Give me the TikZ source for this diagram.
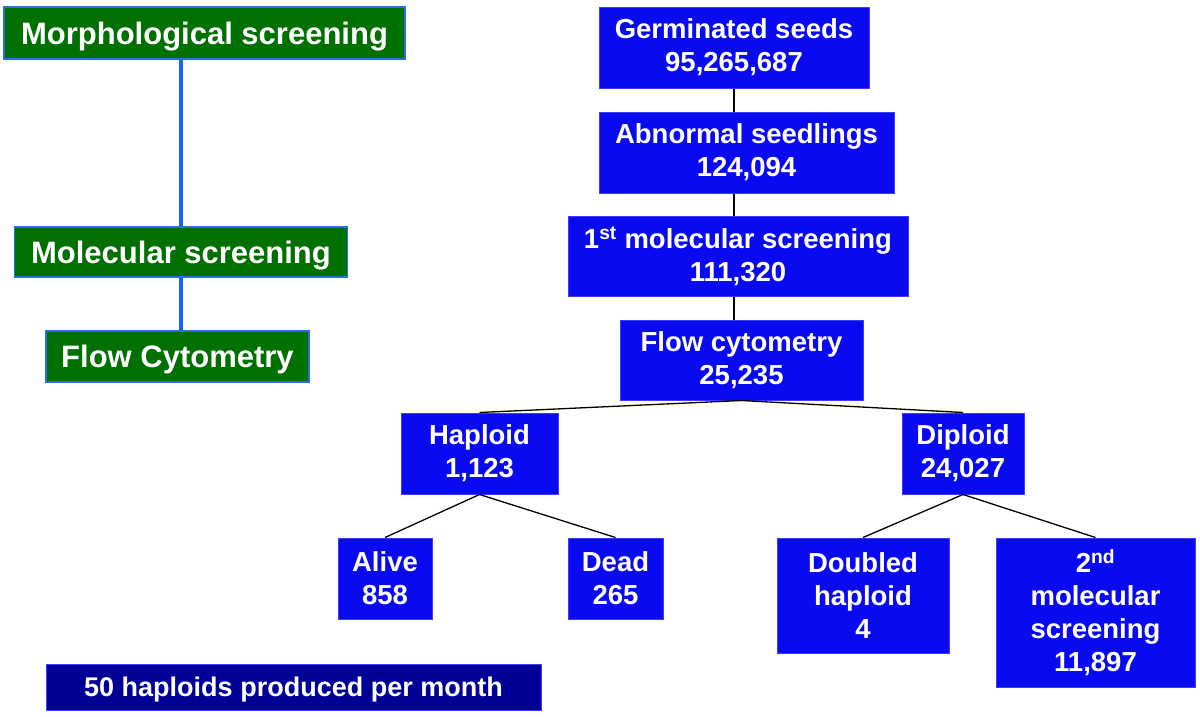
\documentclass[tikz,border=0pt]{standalone}
\usepackage{fontspec}
\setmainfont{Liberation Sans}
\definecolor{gfill}{RGB}{0,112,0}
\definecolor{gborder}{RGB}{40,110,230}
\definecolor{bfill}{RGB}{10,10,240}
\definecolor{bborder}{RGB}{60,60,255}
\definecolor{navy}{RGB}{0,0,150}
\definecolor{lineblue}{RGB}{20,100,255}
\begin{document}
\begin{tikzpicture}[x=1pt,y=-1pt,
  gbox/.style={draw=gborder, fill=gfill, line width=1.2pt, text=white,
    font=\bfseries\fontsize{31}{37}\selectfont, inner sep=0pt,
    text height=22pt, text depth=0pt},
  bbox/.style={draw=bborder, fill=bfill, line width=1pt, text=white,
    font=\bfseries\fontsize{27.5}{33}\selectfont, align=center, inner sep=0pt},
  nbox/.style={draw=bborder, fill=navy, line width=1pt, text=white,
    font=\bfseries\fontsize{27}{32}\selectfont, inner sep=0pt,
    text height=19.4pt, text depth=0pt},
  conn/.style={draw=black, line width=1.3pt},
  vconn/.style={draw=lineblue, line width=3.2pt}]
\useasboundingbox (0,0) rectangle (1200,716);

% left green column
\node[gbox, minimum width=401pt, minimum height=52pt] (morph) at (204.5,33) {Morphological screening};
\node[gbox, minimum width=333pt, minimum height=50pt] (molec) at (181,252) {Molecular screening};
\node[gbox, minimum width=263pt, minimum height=51pt] (flowc) at (177.5,356.5) {Flow Cytometry};
\draw[vconn] (morph.south -| molec.north) -- (molec.north);
\draw[vconn] (molec.south) -- (flowc.north -| molec.south);

% blue tree
\node[bbox, minimum width=270pt, minimum height=81pt] (germ) at (734,47.5) {Germinated seeds\\95,265,687};
\node[bbox, minimum width=295pt, minimum height=81pt] (abn) at (746.5,152.5) {Abnormal seedlings\\124,094};
\node[bbox, minimum width=340pt, minimum height=80pt] (mol1) at (738,256) {1\textsuperscript{st} molecular screening\\111,320};
\node[bbox, minimum width=243pt, minimum height=80pt] (flow) at (741.5,360) {Flow cytometry\\25,235};
\node[bbox, minimum width=157pt, minimum height=81pt] (hap) at (479.5,453.5) {Haploid\\1,123};
\node[bbox, minimum width=122pt, minimum height=81pt] (dip) at (963,453.5) {Diploid\\24,027};
\node[bbox, minimum width=94pt, minimum height=81pt] (alive) at (385,578.5) {Alive\\858};
\node[bbox, minimum width=95pt, minimum height=81pt] (dead) at (615.5,578.5) {Dead\\265};
\node[bbox, minimum width=172pt, minimum height=115pt] (dbl) at (863,595.5) {Doubled\\haploid\\4};
\node[bbox, minimum width=199pt, minimum height=149pt] (mol2) at (1095.5,612.5) {2\textsuperscript{nd}\\molecular\\screening\\11,897};

\node[nbox, minimum width=495pt, minimum height=46pt] (rate) at (293.5,687) {50 haploids produced per month};

% connectors
\draw[conn] (germ.south) -- (germ.south |- abn.north);
\draw[conn] (abn.south -| germ.south) -- (mol1.north -| germ.south);
\draw[conn] (mol1.south -| germ.south) -- (flow.north -| germ.south);
\draw[conn] (flow.south) -- (hap.north);
\draw[conn] (flow.south) -- (dip.north);
\draw[conn] (hap.south) -- (alive.north);
\draw[conn] (hap.south) -- (dead.north);
\draw[conn] (dip.south) -- (dbl.north);
\draw[conn] (dip.south) -- (mol2.north);
\end{tikzpicture}
\end{document}
